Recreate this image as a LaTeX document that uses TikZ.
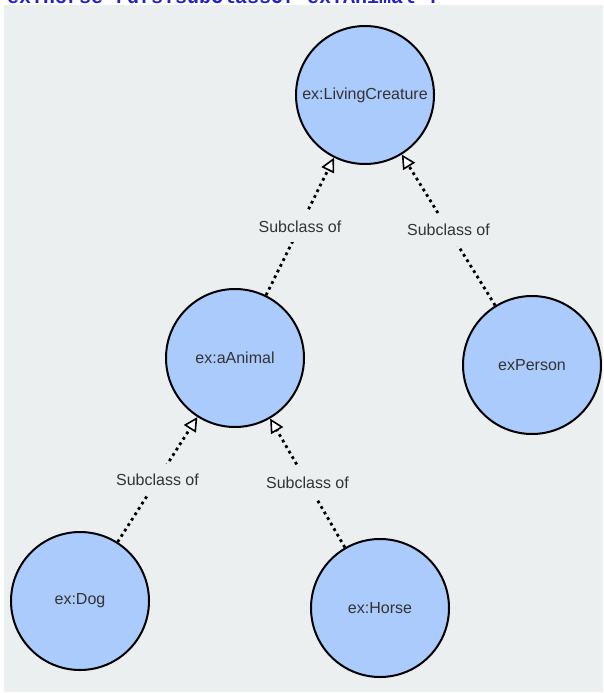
\documentclass[tikz,border=0pt]{standalone}
\usepackage{fontspec}
\setmainfont{Liberation Sans}
\newfontfamily\codefont{Liberation Mono}
\usetikzlibrary{arrows.meta}
\definecolor{panel}{HTML}{ECEFF0}
\definecolor{classfill}{HTML}{AACBFC}
\definecolor{labeltext}{HTML}{333333}
\definecolor{codeblue}{HTML}{2222CC}

\begin{document}
\begin{tikzpicture}[x=1pt, y=-1pt,
    class/.style={circle, draw=black, line width=2pt, fill=classfill, minimum size=138pt,
      inner sep=0pt, text=labeltext, font=\fontsize{16}{19}\selectfont},
    subclass/.style={line width=2.8pt, dash pattern=on 2.8pt off 3.6pt,
      -{Triangle[fill=white, length=14pt, width=14pt, line width=1.6pt]}},
    edgelabel/.style={fill=panel, inner xsep=14pt, inner ysep=10pt, text=labeltext,
      font=\fontsize{16}{19}\selectfont}]
    % Canvas
    \useasboundingbox (0,0) rectangle (603,693);
    \fill[panel] (4,5) rectangle (603,692);

    % Cut-off line of code above the panel
    \begin{scope}
      \clip (0,0) rectangle (603,5);
      \node[anchor=base west, inner sep=0pt, text=codeblue,
        font=\codefont\bfseries\fontsize{20}{24}\selectfont] (code) at (7,4)
        {ex:Horse rdfs:subClassOf ex:Animal .};
    \end{scope}

    % Classes
    \node[class] (living) at (365,95) {ex:LivingCreature};
    \node[class] (animal) at (235,358) {ex:aAnimal};
    \node[class] (person) at (532,365) {exPerson};
    \node[class] (dog) at (80,601) {ex:Dog};
    \node[class] (horse) at (380,608) {ex:Horse};

    % Subclass edges
    \draw[subclass] (animal) -- (living) node[edgelabel, midway] (sub1) {Subclass of};
    \draw[subclass] (person) -- (living) node[edgelabel, midway] (sub2) {Subclass of};
    \draw[subclass] (dog) -- (animal) node[edgelabel, midway] (sub3) {Subclass of};
    \draw[subclass] (horse) -- (animal) node[edgelabel, midway] (sub4) {Subclass of};

\end{tikzpicture}
\end{document}
